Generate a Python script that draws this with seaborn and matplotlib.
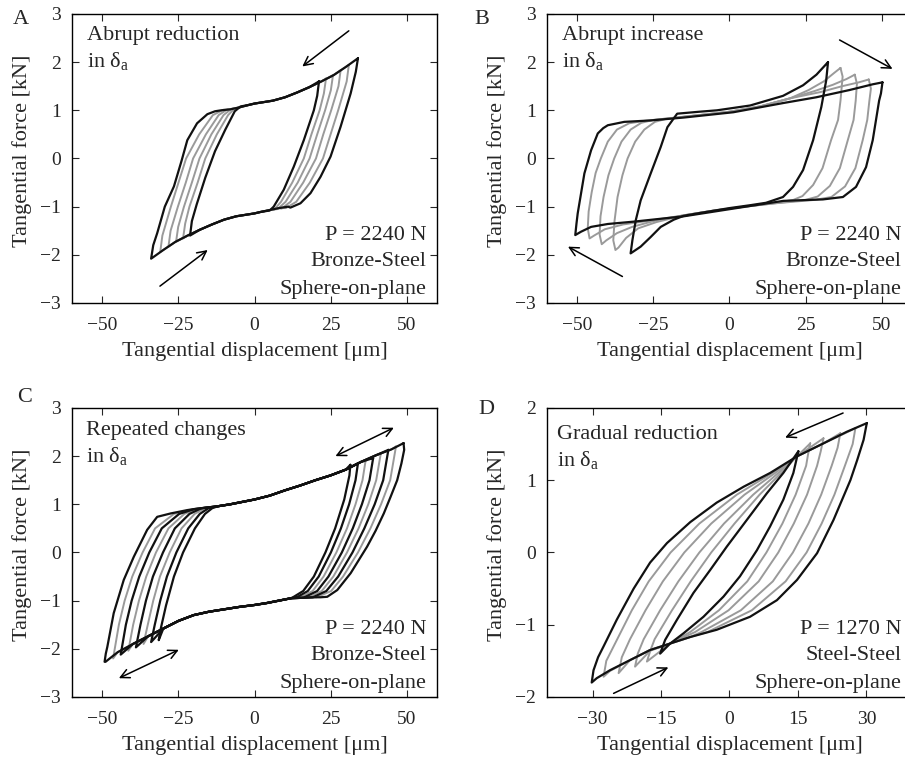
import matplotlib
matplotlib.use("Agg")
import matplotlib.pyplot as plt
import pandas as pd
import seaborn as sns

BLACK = "#111111"
GRAY = "#9a9a9a"

# ---------------- Panel A : abrupt reduction ----------------
a_top_x = [-14, -11, -8, -5, -2, 0, 3, 6, 10, 14, 18, 22, 26, 30, 34]
a_top_y = [0.96, 1.0, 1.02, 1.06, 1.11, 1.14, 1.17, 1.2, 1.27, 1.37, 1.48, 1.6, 1.73, 1.9, 2.08]
a_bot_x = [14, 11, 8, 5, 2, 0, -3, -6, -10, -14, -18, -22, -26, -30, -34]
a_bot_y = [-0.96, -1.0, -1.03, -1.07, -1.11, -1.14, -1.17, -1.2, -1.27, -1.37, -1.48, -1.6, -1.73, -1.9, -2.08]

a_outer_right = [(34.0, 2.08), (33.3, 1.8), (31.6, 1.35), (28.3, 0.66), (25.0, 0.04), (21.7, -0.38),
                 (18.4, -0.72), (15.1, -0.93), (11.8, -1.02)]
a_outer_left = [(-34.0, -2.08), (-33.3, -1.8), (-32.0, -1.55), (-29.5, -1.0), (-26.5, -0.58), (-24.0, -0.05),
                (-22.1, 0.38), (-18.9, 0.73), (-15.5, 0.92), (-13.0, 0.98)]
a_inner_right = [(21.2, 1.6), (20.6, 1.3), (19.5, 1.0), (16.2, 0.38), (12.9, -0.17), (9.6, -0.65),
                 (6.3, -1.0), (5.0, -1.08)]
a_inner_left = [(-21.2, -1.6), (-20.6, -1.3), (-19.0, -0.95), (-16.2, -0.4), (-13.0, 0.15), (-9.6, 0.6),
                (-6.5, 0.98), (-4.6, 1.08)]
a_g1_right = [(23.5, 1.66), (22.8, 1.35), (21.4, 1.0), (18.7, 0.5), (16.2, 0.0), (12.4, -0.5), (8.7, -0.9), (6.5, -1.06)]
a_g1_left = [(-23.5, -1.66), (-22.8, -1.35), (-21.4, -1.0), (-18.7, -0.5), (-16.2, 0.0), (-12.4, 0.5), (-8.7, 0.9), (-6.5, 1.04)]
a_g2_right = [(25.8, 1.73), (25.1, 1.42), (23.2, 1.0), (20.6, 0.5), (18.1, 0.0), (14.2, -0.5), (10.2, -0.9), (7.6, -1.05)]
a_g2_left = [(-25.8, -1.73), (-25.1, -1.42), (-23.2, -1.0), (-20.6, -0.5), (-18.1, 0.0), (-14.2, 0.5), (-10.2, 0.9), (-7.6, 1.03)]
a_g3_right = [(28.3, 1.83), (27.6, 1.5), (25.2, 1.0), (22.6, 0.5), (20.2, 0.0), (16.0, -0.5), (11.8, -0.9), (8.9, -1.04)]
a_g3_left = [(-28.3, -1.83), (-27.6, -1.5), (-25.2, -1.0), (-22.6, -0.5), (-20.2, 0.0), (-16.0, 0.5), (-11.8, 0.9), (-8.9, 1.02)]
a_g4_right = [(31.0, 1.94), (30.3, 1.6), (27.5, 1.0), (25.0, 0.5), (22.5, 0.0), (18.2, -0.5), (13.7, -0.9), (10.3, -1.03)]
a_g4_left = [(-31.0, -1.94), (-30.3, -1.6), (-27.5, -1.0), (-25.0, -0.5), (-22.5, 0.0), (-18.2, 0.5), (-13.7, 0.9), (-10.3, 1.01)]

# ---------------- Panel B : abrupt increase ----------------
b_black_small = [(32.4, 2.0), (31.8, 1.62), (30.2, 1.07), (27.5, 0.38), (24.2, -0.24), (20.9, -0.59), (17.6, -0.8),
                 (12.0, -0.92), (6.8, -0.97), (0.0, -1.03), (-9.6, -1.13), (-15.0, -1.19), (-18.3, -1.27),
                 (-22.6, -1.42), (-25.9, -1.63), (-29.2, -1.83), (-32.5, -1.97), (-31.9, -1.69), (-30.8, -1.28),
                 (-29.2, -0.87), (-25.9, -0.31), (-22.6, 0.24), (-20.4, 0.65), (-17.2, 0.93), (-10.0, 0.97),
                 (-4.1, 1.0), (6.8, 1.1), (17.6, 1.3), (24.2, 1.52), (28.6, 1.74), (32.4, 2.0)]
b_black_large = [(50.3, 1.58), (49.8, 1.35), (49.2, 1.2), (47.1, 0.38), (44.9, -0.18), (41.6, -0.59), (37.3, -0.8),
                 (30.7, -0.85), (17.7, -0.88), (1.3, -1.04), (-15.0, -1.2), (-31.3, -1.31), (-40.0, -1.36),
                 (-45.5, -1.42), (-48.8, -1.52), (-50.7, -1.59), (-50.3, -1.35), (-49.9, -1.14), (-47.7, -0.31),
                 (-45.5, 0.17), (-43.3, 0.52), (-41.5, 0.63), (-40.0, 0.69), (-34.6, 0.76), (-25.9, 0.79),
                 (-15.0, 0.85), (1.3, 0.96), (17.6, 1.15), (28.5, 1.27), (39.4, 1.42), (47.1, 1.54), (50.3, 1.58)]
b_gray_1 = [(36.5, 1.88), (37.2, 1.7), (36.5, 1.2), (35.7, 0.8), (33.4, 0.38), (30.6, -0.2), (27.5, -0.55),
            (24.0, -0.78), (21.0, -0.86), (15.0, -0.92), (5.0, -1.0), (-5.0, -1.08), (-15.0, -1.18), (-24.0, -1.32),
            (-30.0, -1.45), (-34.0, -1.65), (-36.5, -1.85), (-37.5, -1.9), (-38.2, -1.7), (-37.8, -1.3),
            (-36.8, -0.8), (-35.2, -0.35), (-33.5, 0.0), (-31.0, 0.35), (-28.0, 0.6), (-24.5, 0.76), (-21.0, 0.82),
            (-10.0, 0.9), (0.0, 0.97), (10.0, 1.08), (20.0, 1.25), (26.0, 1.42), (31.0, 1.6), (34.5, 1.78), (36.5, 1.88)]
b_gray_2 = [(41.2, 1.74), (41.9, 1.55), (41.5, 1.2), (40.8, 0.8), (38.9, 0.38), (36.3, -0.2), (33.0, -0.57),
            (29.0, -0.79), (25.0, -0.86), (15.0, -0.93), (5.0, -1.0), (-5.0, -1.08), (-15.0, -1.18), (-25.0, -1.3),
            (-32.0, -1.42), (-37.0, -1.55), (-40.5, -1.7), (-42.0, -1.78), (-42.7, -1.58), (-42.4, -1.2),
            (-41.4, -0.8), (-39.8, -0.35), (-37.9, 0.0), (-35.5, 0.35), (-32.5, 0.6), (-29.0, 0.74), (-25.0, 0.8),
            (-10.0, 0.9), (0.0, 0.97), (10.0, 1.08), (20.0, 1.25), (28.0, 1.4), (34.0, 1.53), (38.5, 1.65), (41.2, 1.74)]
b_gray_3 = [(45.8, 1.64), (46.5, 1.45), (46.0, 1.2), (45.3, 0.8), (43.8, 0.38), (41.4, -0.2), (38.0, -0.58),
            (33.5, -0.8), (28.0, -0.86), (15.0, -0.93), (5.0, -1.0), (-5.0, -1.08), (-15.0, -1.18), (-25.0, -1.28),
            (-35.0, -1.37), (-41.0, -1.47), (-44.5, -1.6), (-46.0, -1.66), (-46.6, -1.45), (-46.3, -1.1),
            (-45.3, -0.7), (-44.0, -0.3), (-42.3, 0.0), (-40.0, 0.35), (-37.0, 0.6), (-33.0, 0.73), (-28.0, 0.78),
            (-10.0, 0.9), (0.0, 0.97), (10.0, 1.08), (20.0, 1.25), (30.0, 1.38), (37.0, 1.5), (42.5, 1.58), (45.8, 1.64)]

# ---------------- Panel C : repeated changes ----------------
c_top_x = [-24, -20, -16, -12, -8, -4, 0, 5, 10, 15, 20, 25, 30, 35, 40, 45, 49]
c_top_y = [0.86, 0.9, 0.93, 0.96, 1.0, 1.05, 1.1, 1.18, 1.29, 1.39, 1.5, 1.6, 1.72, 1.88, 2.02, 2.14, 2.27]
c_bot_x = [24, 20, 16, 12, 8, 4, 0, -5, -10, -15, -20, -25, -30, -35, -40, -45, -49]
c_bot_y = [-0.92, -0.93, -0.94, -0.95, -1.0, -1.05, -1.09, -1.13, -1.18, -1.23, -1.3, -1.42, -1.58, -1.74, -1.9,
           -2.07, -2.27]

c_k49_right = [(49.0, 2.27), (49.2, 2.13), (48.3, 1.85), (46.9, 1.5), (44.7, 1.15), (42.5, 0.81), (39.8, 0.45),
               (37.0, 0.12), (31.6, -0.43), (27.2, -0.78), (23.9, -0.92), (21.7, -0.93)]
c_k49_left = [(-49.3, -2.27), (-48.9, -2.1), (-48.4, -1.96), (-46.3, -1.26), (-43.0, -0.57), (-39.7, -0.09),
              (-35.3, 0.47), (-32.0, 0.74), (-27.6, 0.81), (-22.1, 0.88)]
c_g46_right = [(46.5, 2.2), (44.6, 1.5), (41.6, 1.0), (38.1, 0.5), (34.0, 0.0), (29.1, -0.5), (25.2, -0.8), (20.4, -0.93)]
c_g46_left = [(-46.5, -2.2), (-44.6, -1.5), (-42.7, -1.0), (-40.2, -0.5), (-36.8, 0.0), (-32.7, 0.5), (-26.5, 0.8), (-20.9, 0.89)]
c_k44_right = [(44.0, 2.13), (42.3, 1.5), (39.5, 1.0), (36.1, 0.5), (32.2, 0.0), (27.5, -0.5), (23.6, -0.8), (19.2, -0.93)]
c_k44_left = [(-44.0, -2.12), (-42.3, -1.5), (-40.4, -1.0), (-37.9, -0.5), (-34.6, 0.0), (-30.5, 0.5), (-24.8, 0.8), (-19.8, 0.9)]
c_g41_right = [(41.5, 2.05), (40.0, 1.5), (37.4, 1.0), (34.2, 0.5), (30.4, 0.0), (25.9, -0.5), (22.1, -0.8), (17.9, -0.93)]
c_g41_left = [(-41.5, -2.04), (-39.9, -1.5), (-38.0, -1.0), (-35.6, -0.5), (-32.4, 0.0), (-28.3, 0.5), (-23.1, 0.8), (-18.6, 0.91)]
c_k39_right = [(39.0, 1.96), (37.8, 1.5), (35.3, 1.0), (32.3, 0.5), (28.7, 0.0), (24.3, -0.5), (20.6, -0.8), (16.7, -0.92)]
c_k39_left = [(-39.0, -1.97), (-37.5, -1.5), (-35.7, -1.0), (-33.4, -0.5), (-30.1, 0.0), (-26.2, 0.5), (-21.4, 0.8), (-17.4, 0.92)]
c_g36_right = [(36.5, 1.9), (35.5, 1.5), (33.2, 1.0), (30.4, 0.5), (26.9, 0.0), (22.7, -0.5), (19.1, -0.8), (15.4, -0.92)]
c_g36_left = [(-36.5, -1.9), (-35.1, -1.5), (-33.3, -1.0), (-31.1, -0.5), (-27.9, 0.0), (-24.0, 0.5), (-19.7, 0.8), (-16.2, 0.92)]
c_k34_right = [(34.0, 1.85), (33.2, 1.5), (31.1, 1.0), (28.4, 0.5), (25.1, 0.0), (21.1, -0.5), (17.5, -0.8), (14.2, -0.92)]
c_k34_left = [(-34.0, -1.86), (-32.8, -1.5), (-31.0, -1.0), (-28.8, -0.5), (-25.7, 0.0), (-21.8, 0.5), (-18.0, 0.8), (-15.1, 0.92)]
c_k31_right = [(31.5, 1.82), (31.2, 1.6), (29.5, 1.1), (26.5, 0.5), (23.3, 0.0), (19.5, -0.5), (16.0, -0.8), (12.9, -0.92)]
c_k31_left = [(-31.5, -1.82), (-30.9, -1.6), (-29.1, -1.1), (-26.5, -0.5), (-23.5, 0.0), (-19.6, 0.5), (-16.3, 0.8), (-13.9, 0.92)]

# ---------------- Panel D : gradual reduction ----------------
d_black_outer = [(30.1, 1.79), (29.4, 1.56), (28.0, 1.28), (26.5, 1.0), (22.8, 0.45), (19.2, -0.01), (14.8, -0.38),
                 (10.4, -0.66), (4.5, -0.89), (-2.8, -1.07), (-8.6, -1.17), (-13.0, -1.26), (-17.4, -1.35),
                 (-21.8, -1.49), (-26.2, -1.63), (-29.1, -1.74), (-30.2, -1.8), (-29.8, -1.63), (-28.8, -1.45),
                 (-27.6, -1.3), (-24.7, -0.93), (-21.0, -0.5), (-17.4, -0.14), (-13.7, 0.13), (-8.6, 0.42),
                 (-2.8, 0.69), (3.1, 0.91), (8.9, 1.1), (14.8, 1.33), (20.6, 1.51), (25.7, 1.67), (30.1, 1.79)]
d_black_inner = [(15.1, 1.40), (14.0, 1.1), (11.8, 0.73), (8.9, 0.36), (6.0, 0.03), (2.3, -0.33), (-1.3, -0.61),
                 (-5.7, -0.89), (-10.1, -1.12), (-13.0, -1.26), (-15.2, -1.40), (-14.1, -1.21), (-11.5, -0.93),
                 (-7.9, -0.56), (-4.2, -0.24), (-0.6, 0.08), (3.8, 0.45), (8.2, 0.82), (11.8, 1.10), (15.1, 1.40)]
d_gray_1 = [(27.6, 1.72), (27.0, 1.5), (25.3, 1.2), (23.0, 0.8), (20.2, 0.4), (16.9, 0.0), (12.3, -0.4), (4.9, -0.8),
            (-4.8, -1.1), (-8.6, -1.17), (-13.0, -1.26), (-17.4, -1.35), (-21.8, -1.49), (-26.2, -1.64), (-27.6, -1.72),
            (-27.0, -1.5), (-24.6, -1.2), (-21.4, -0.8), (-17.7, -0.4), (-12.9, 0.0), (-6.6, 0.4), (1.6, 0.8),
            (9.4, 1.1), (14.8, 1.33), (20.6, 1.51), (25.0, 1.64), (27.6, 1.72)]
d_gray_2 = [(24.3, 1.65), (23.7, 1.45), (22.4, 1.2), (20.1, 0.8), (17.3, 0.4), (13.9, 0.0), (9.5, -0.4), (2.5, -0.8),
            (-6.1, -1.1), (-8.6, -1.17), (-13.0, -1.26), (-17.4, -1.35), (-21.8, -1.49), (-24.3, -1.67),
            (-23.6, -1.45), (-21.8, -1.2), (-18.4, -0.8), (-14.6, -0.4), (-9.9, 0.0), (-4.0, 0.4), (3.3, 0.8),
            (10.0, 1.1), (14.8, 1.33), (20.6, 1.51), (24.3, 1.65)]
d_gray_3 = [(20.6, 1.58), (20.0, 1.4), (19.2, 1.2), (17.0, 0.8), (14.1, 0.4), (10.7, 0.0), (6.4, -0.4), (-0.2, -0.8),
            (-7.5, -1.1), (-13.0, -1.26), (-17.4, -1.36), (-20.7, -1.58), (-20.1, -1.4), (-18.8, -1.2), (-15.2, -0.8),
            (-11.2, -0.4), (-6.6, 0.0), (-1.2, 0.4), (5.2, 0.8), (10.7, 1.1), (14.8, 1.33), (20.6, 1.58)]
d_gray_4 = [(17.7, 1.51), (17.2, 1.35), (16.8, 1.2), (14.5, 0.8), (11.6, 0.4), (8.1, 0.0), (3.9, -0.4), (-2.3, -0.8),
            (-8.6, -1.1), (-13.0, -1.26), (-18.1, -1.51), (-17.3, -1.35), (-16.4, -1.2), (-12.6, -0.8), (-8.5, -0.4),
            (-4.0, 0.0), (1.1, 0.4), (6.6, 0.8), (11.3, 1.1), (14.8, 1.33), (17.7, 1.51)]


def assemble(right, left, top_x, top_y, bot_x, bot_y):
    """Join a loop from its read edges and the shared read branches."""
    rc, lt, lc, rt = right[-1][0], left[0][0], left[-1][0], right[0][0]
    pts = list(right)
    pts += [(x, y) for x, y in zip(bot_x, bot_y) if lt < x < rc]
    pts += list(left)
    pts += [(x, y) for x, y in zip(top_x, top_y) if lc < x < rt]
    pts.append(right[0])
    return pts


def frame(loops):
    rows = []
    for i, pts in enumerate(loops):
        for j, (x, y) in enumerate(pts):
            rows.append({"loop": i, "order": j, "x": x, "y": y})
    return pd.DataFrame(rows)


panels = {
    "A": {
        "gray": [assemble(r, l, a_top_x, a_top_y, a_bot_x, a_bot_y) for r, l in
                 [(a_g1_right, a_g1_left), (a_g2_right, a_g2_left), (a_g3_right, a_g3_left), (a_g4_right, a_g4_left)]],
        "black": [assemble(r, l, a_top_x, a_top_y, a_bot_x, a_bot_y) for r, l in
                  [(a_outer_right, a_outer_left), (a_inner_right, a_inner_left)]],
    },
    "B": {"gray": [b_gray_1, b_gray_2, b_gray_3], "black": [b_black_small, b_black_large]},
    "C": {
        "gray": [assemble(r, l, c_top_x, c_top_y, c_bot_x, c_bot_y) for r, l in
                 [(c_g46_right, c_g46_left), (c_g41_right, c_g41_left), (c_g36_right, c_g36_left)]],
        "black": [assemble(r, l, c_top_x, c_top_y, c_bot_x, c_bot_y) for r, l in
                  [(c_k49_right, c_k49_left), (c_k44_right, c_k44_left), (c_k39_right, c_k39_left),
                   (c_k34_right, c_k34_left), (c_k31_right, c_k31_left)]],
    },
    "D": {"gray": [d_gray_1, d_gray_2, d_gray_3, d_gray_4], "black": [d_black_outer, d_black_inner]},
}

titles = {"A": ["Abrupt reduction"], "B": ["Abrupt increase"], "C": ["Repeated changes"], "D": ["Gradual reduction"]}
conditions = {
    "A": ["P = 2240 N", "Bronze-Steel", "Sphere-on-plane"],
    "B": ["P = 2240 N", "Bronze-Steel", "Sphere-on-plane"],
    "C": ["P = 2240 N", "Bronze-Steel", "Sphere-on-plane"],
    "D": ["P = 1270 N", "Steel-Steel", "Sphere-on-plane"],
}
xticks = {"A": [-50, -25, 0, 25, 50], "B": [-50, -25, 0, 25, 50], "C": [-50, -25, 0, 25, 50], "D": [-30, -15, 0, 15, 30]}
yticks = {"A": [-3, -2, -1, 0, 1, 2, 3], "B": [-3, -2, -1, 0, 1, 2, 3], "C": [-3, -2, -1, 0, 1, 2, 3], "D": [-2, -1, 0, 1, 2]}
xlims = {"A": (-60, 60), "B": (-60, 60), "C": (-60, 60), "D": (-40, 40)}
ylims = {"A": (-3, 3), "B": (-3, 3), "C": (-3, 3), "D": (-2, 2)}
# arrows: (tail, head, style)
arrows = {
    "A": [((31.0, 2.65), (15.7, 1.91), "->"), ((-31.1, -2.65), (-15.4, -1.9), "->")],
    "B": [((36.2, 2.46), (53.6, 1.86), "->"), ((-35.2, -2.45), (-53.1, -1.83), "->")],
    "C": [((26.6, 2.0), (45.8, 2.59), "<->"), ((-44.6, -2.61), (-24.9, -2.02), "<->")],
    "D": [((24.9, 1.93), (12.2, 1.59), "->"), ((-25.4, -1.95), (-13.4, -1.59), "->")],
}
title_x = {"A": 0.041, "B": 0.040, "C": 0.038, "D": 0.028}
title_base = {"A": (0.910, 0.818), "B": (0.910, 0.818), "C": (0.905, 0.812), "D": (0.893, 0.798)}

sns.set_style("ticks")
plt.rcParams["font.family"] = ["Liberation Serif", "DejaVu Serif"]
plt.rcParams["mathtext.fontset"] = "custom"
plt.rcParams["mathtext.rm"] = "Liberation Serif"
plt.rcParams["mathtext.it"] = "Liberation Serif:italic"
plt.rcParams["axes.unicode_minus"] = True

fig = plt.figure(figsize=(9.05, 7.59), dpi=100)
rects = {"A": [0.0796, 0.6008, 0.4033, 0.3808], "B": [0.6044, 0.6008, 0.4033, 0.3808],
         "C": [0.0796, 0.0817, 0.4033, 0.3808], "D": [0.6044, 0.0817, 0.4033, 0.3808]}
letters = {"A": (20.7, 20), "B": (481.7, 20), "C": (25, 398), "D": (486.7, 410)}

for key in ["A", "B", "C", "D"]:
    ax = fig.add_axes(rects[key])
    g = frame(panels[key]["gray"])
    k = frame(panels[key]["black"])
    sns.lineplot(data=g, x="x", y="y", units="loop", estimator=None, sort=False, color=GRAY, lw=1.4, ax=ax)
    sns.lineplot(data=k, x="x", y="y", units="loop", estimator=None, sort=False, color=BLACK, lw=1.6, ax=ax)
    ax.set_xlim(*xlims[key])
    ax.set_ylim(*ylims[key])
    ax.set_xticks(xticks[key])
    ax.set_yticks(yticks[key])
    ax.tick_params(direction="in", top=True, right=True, length=5, width=0.8, labelsize=14)
    ax.tick_params(axis="x", pad=10)
    ax.tick_params(axis="y", pad=8)
    for s in ax.spines.values():
        s.set_linewidth(1.0)
        s.set_color("black")
    ax.set_xlabel("Tangential displacement [μm]", fontsize=16, labelpad=6)
    ax.set_ylabel("Tangential force [kN]", fontsize=16)
    ax.yaxis.set_label_coords(-0.109, 0.525)
    tx = title_x[key]
    b1, b2 = title_base[key]
    ax.text(tx, b1, titles[key][0], transform=ax.transAxes, fontsize=16, ha="left", va="baseline")
    ax.text(tx, b2, r"in $\mathrm{\delta_a}$", transform=ax.transAxes, fontsize=16, ha="left", va="baseline")
    for txt, yb in zip(conditions[key], [0.218, 0.129, 0.030]):
        ax.text(0.972, yb, txt, transform=ax.transAxes, fontsize=16, ha="right", va="baseline")
    for tail, head, style in arrows[key]:
        ax.annotate("", xy=head, xytext=tail,
                    arrowprops=dict(arrowstyle=style, color="black", lw=1.1, mutation_scale=16,
                                    shrinkA=0, shrinkB=0))
    lx, ly = letters[key]
    fig.text(lx / 905, 1 - ly / 759, key, fontsize=16, ha="center", va="center")

fig.savefig("out.png", dpi=100)
